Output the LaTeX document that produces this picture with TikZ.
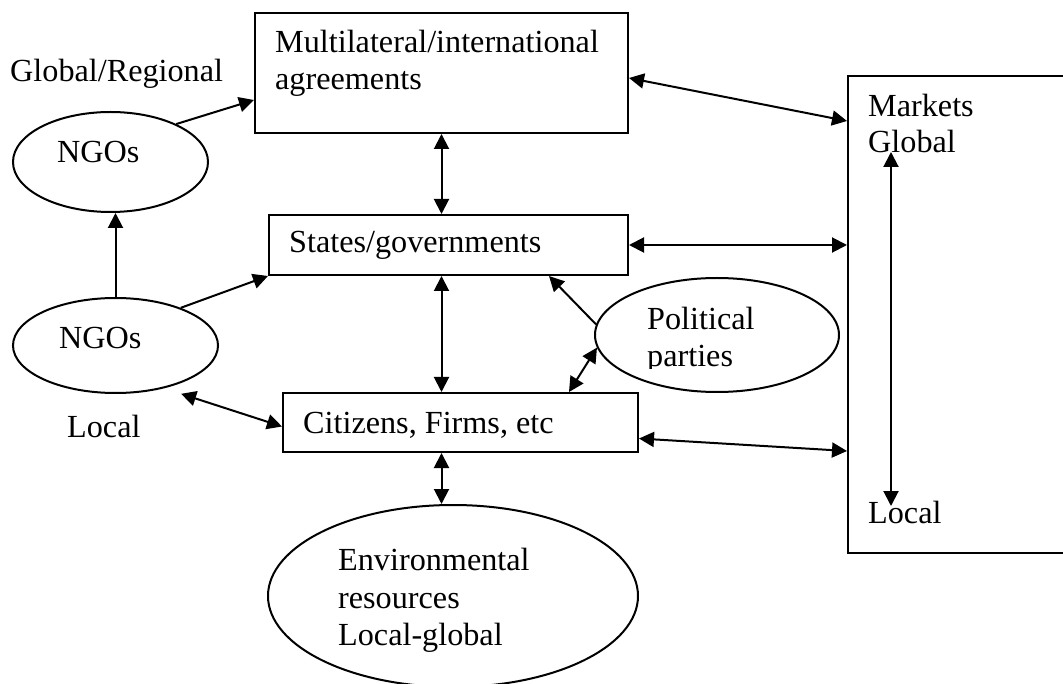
\documentclass[tikz,border=0pt]{standalone}
\usepackage{fontspec}
\setmainfont{Liberation Serif}
\usetikzlibrary{arrows.meta,shapes.geometric}
\begin{document}
\begin{tikzpicture}[x=1pt,y=-1pt,
  box/.style={draw, line width=2pt, rectangle, inner sep=0pt},
  oval/.style={draw, line width=2pt, ellipse, inner sep=0pt},
  lbl/.style={anchor=base west, inner sep=0pt, font=\fontsize{32.2}{37}\selectfont},
  link/.style={line width=2pt, {Triangle[length=15pt,width=15pt]}-{Triangle[length=15pt,width=15pt]}},
  onearrow/.style={line width=2pt, -{Triangle[length=15pt,width=15pt]}},
]
\useasboundingbox (0,0) rectangle (1063,684);
\clip (0,0) rectangle (1063,684);
% boxes
\node[box, minimum width=373pt, minimum height=120pt] (multi) at (441.5,73) {};
\node[box, minimum width=359pt, minimum height=60pt] (states) at (448.5,245) {};
\node[box, minimum width=355pt, minimum height=59pt] (cit) at (460.5,422.5) {};
\node[box, minimum width=222pt, minimum height=477pt] (markets) at (959,314.5) {};
% ellipses
\node[oval, minimum width=195pt, minimum height=100pt] (ngo1) at (110.5,162) {};
\node[oval, minimum width=205pt, minimum height=95pt] (ngo2) at (115.5,345.5) {};
\node[oval, minimum width=244pt, minimum height=114pt] (pol) at (717,335) {};
\node[oval, minimum width=370pt, minimum height=182pt] (env) at (453,596) {};
% texts
\node[lbl] (t1) at (275,53) {Multilateral/international};
\node[lbl] (t2) at (275,90) {agreements};
\node[lbl] (t3) at (289,253) {States/governments};
\node[lbl] (t4) at (303,433) {Citizens, Firms, etc};
\node[lbl] (t5) at (10,82) {Global/Regional};
\node[lbl] (t6) at (57,163) {NGOs};
\node[lbl] (t7) at (59,349) {NGOs};
\node[lbl] (t8) at (67,438) {Local};
\begin{scope}
  \clip (590,270) rectangle (850,369);
  \node[lbl] (t9) at (647,330) {Political};
  \node[lbl] (t10) at (647,367) {parties};
\end{scope}
\node[lbl] (t11) at (868,117) {Markets};
\node[lbl] (t12) at (868,153) {Global};
\node[lbl] (t13) at (868,523) {Local};
\node[lbl] (t14) at (338,570) {Environmental};
\node[lbl] (t15) at (338,608) {resources};
\node[lbl] (t16) at (338,645) {Local-global};
% connectors
\draw[onearrow] (ngo1.30) -- ([yshift=-27pt]multi.west);
\draw[onearrow] (ngo2.north) -- (ngo2.north |- ngo1.south);
\draw[onearrow] (ngo2.30) -- (states.south west);
\draw[link] ([shift={(8pt,-8pt)}]ngo2.-35) -- ([yshift=-4pt]cit.west);
\draw[link] ([yshift=-5pt]multi.east) -- ([yshift=-46pt]markets.north west);
\draw[link] (states.east) -- (states.east -| markets.west);
\draw[link] ([yshift=-16pt]cit.east) -- ([yshift=-376pt]markets.north west);
\draw[link] (multi.south) -- (multi.south |- states.north);
\draw[link] (multi.south |- states.south) -- (multi.south |- cit.north);
\draw[link] (multi.south |- cit.south) -- (multi.south |- env.north);
\draw[onearrow] (pol.175) -- ([xshift=-80pt]states.south east);
\draw[link] (pol.186) -- ([xshift=-70pt]cit.north east);
\coordinate (mtop) at ([shift={(44pt,-77pt)}]markets.north west);
\coordinate (mbot) at ([shift={(44pt,48pt)}]markets.south west);
\draw[link] (mtop) -- (mbot);
\end{tikzpicture}
\end{document}
